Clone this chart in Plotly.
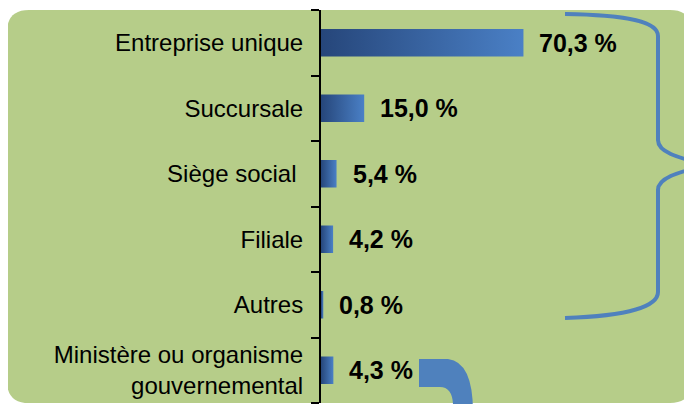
import plotly.graph_objects as go

# data
categories = ["Entreprise unique", "Succursale", "Siège social\u00a0", "Filiale", "Autres",
              "Ministère ou organisme<br>gouvernemental"]
values = [70.3, 15.0, 5.4, 4.2, 0.8, 4.3]

W, H = 692, 404
OFF = 8  # page body margin
L, R, T, B = 313, 0, 2, 9
PX_PER_UNIT = 2.88
BAR_HALF = 0.21
GREEN = "#B6CD89"
BLUE = "#4F81BD"


def px(x, y):
    # screen pixel -> paper coordinates
    return ((x - OFF - L) / (W - L - R), 1 - (y - OFF - T) / (H - T - B))


def path(cmds):
    out = []
    for c in cmds:
        if isinstance(c, str):
            out.append(c)
        else:
            xp, yp = px(*c)
            out.append(f"{xp:.5f},{yp:.5f}")
    return " ".join(out)


fig = go.Figure()

# bars as filled shapes so each one gets its own gradient
for i, v in enumerate(values):
    fig.add_trace(go.Scatter(
        x=[0, v, v, 0, 0],
        y=[i - BAR_HALF, i - BAR_HALF, i + BAR_HALF, i + BAR_HALF, i - BAR_HALF],
        mode="lines", fill="toself", line=dict(width=0),
        fillgradient=dict(type="horizontal", colorscale=[[0, "#26467A"], [1, "#4A80C6"]]),
        hoverinfo="skip", showlegend=False,
    ))

for i, v in enumerate(values):
    fig.add_annotation(
        x=v, y=i, xref="x", yref="y", xanchor="left", yanchor="middle", xshift=14,
        text=f"{v:.1f}".replace(".", ",") + " %", showarrow=False,
        font=dict(family="Liberation Sans, Arial", size=25, color="black", weight="bold"),
    )

# green rounded background
r = 22
bg = path(["M", (7 + r, 10), "L", (692 - r, 10), "Q", (692, 10), (692, 10 + r),
           "L", (692, 403 - r), "Q", (692, 403), (692 - r, 403),
           "L", (7 + r, 403), "Q", (7, 403), (7, 403 - r),
           "L", (7, 10 + r), "Q", (7, 10), (7 + r, 10), "Z"])
fig.add_shape(type="path", path=bg, xref="paper", yref="paper", layer="below",
              fillcolor=GREEN, line=dict(width=0))

# big brace
brace = path(["M", (565, 14), "C", (630, 15), (658, 22), (658, 36),
              "L", (658, 140), "C", (658, 152), (676, 157), (706, 165),
              "C", (676, 173), (658, 178), (658, 190),
              "L", (658, 292), "C", (658, 306), (630, 316), (565, 318)])
fig.add_shape(type="path", path=brace, xref="paper", yref="paper",
              line=dict(color=BLUE, width=4))

# thick curve at the bottom
thick = path(["M", (419, 359), "L", (448, 359), "Q", (473, 362), (473, 412),
              "L", (453, 412), "L", (453, 404), "Q", (452, 387), (440, 387),
              "L", (419, 387), "Z"])
fig.add_shape(type="path", path=thick, xref="paper", yref="paper",
              fillcolor=BLUE, line=dict(width=0))

fig.update_layout(
    width=W, height=H,
    margin=dict(l=L, r=R, t=T, b=B),
    paper_bgcolor="white", plot_bgcolor="rgba(0,0,0,0)",
    font=dict(family="Liberation Sans, Arial", color="black"),
    showlegend=False,
)
fig.update_xaxes(range=[0, (W - L - R) / PX_PER_UNIT], visible=False, fixedrange=True)
fig.update_yaxes(
    range=[len(values) - 0.5, -0.5],
    tickmode="array", tickvals=list(range(len(values))), ticktext=categories,
    ticks="", ticklabelstandoff=11,
    tickfont=dict(size=24, color="black"),
    showline=True, linecolor="black", linewidth=2,
    showgrid=False, zeroline=False,
    minor=dict(tickvals=[i - 0.5 for i in range(len(values) + 1)], ticks="outside",
               ticklen=8, tickwidth=2, tickcolor="black", showgrid=False),
)

fig.write_html("out.html")
